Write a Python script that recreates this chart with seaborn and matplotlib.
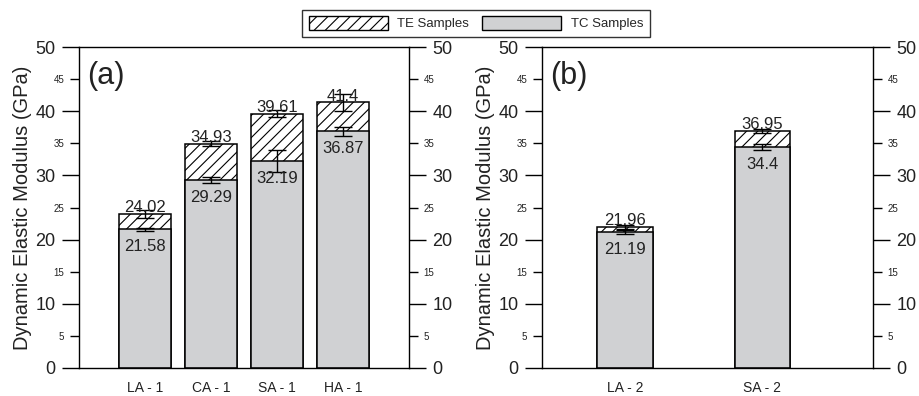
import matplotlib
matplotlib.use("Agg")
import matplotlib.pyplot as plt
from matplotlib.patches import Patch
from matplotlib.ticker import MultipleLocator, FormatStrFormatter
import numpy as np
import pandas as pd
import seaborn as sns

# ---- data ----
cats_a = ["LA - 1", "CA - 1", "SA - 1", "HA - 1"]
te_a = [24.02, 34.93, 39.61, 41.4]
tc_a = [21.58, 29.29, 32.19, 36.87]
te_err_a = [0.65, 0.4, 0.55, 1.35]
tc_err_a = [0.2, 0.5, 1.7, 0.7]

cats_b = ["LA - 2", "SA - 2"]
te_b = [21.96, 36.95]
tc_b = [21.19, 34.4]
te_err_b = [0.3, 0.3]
tc_err_b = [0.3, 0.5]

panel_labels = ["(a)", "(b)"]
ylabel = "Dynamic Elastic Modulus (GPa)"
legend_labels = ["TE Samples", "TC Samples"]

sns.set_theme(style="white")
plt.rcParams["font.family"] = ["Liberation Sans", "DejaVu Sans"]
plt.rcParams["hatch.linewidth"] = 0.8
plt.rcParams["hatch.color"] = "#333333"

TC_COLOR = "#d0d1d3"

fig = plt.figure(figsize=(9.2, 3.96), dpi=100)
ax_a = fig.add_axes([79 / 920, 28 / 396, 330 / 920, 321 / 396])
ax_b = fig.add_axes([542 / 920, 28 / 396, 331 / 920, 321 / 396])


def draw(ax, cats, te, tc, te_err, tc_err, width, xlim, label):
    df = pd.DataFrame({"sample": cats, "te": te, "tc": tc})
    sns.barplot(data=df, x="sample", y="te", color="white", width=width,
                edgecolor="black", linewidth=1.1, hatch="///", errorbar=None,
                ax=ax, saturation=1, zorder=1)
    sns.barplot(data=df, x="sample", y="tc", color=TC_COLOR, width=width,
                edgecolor="black", linewidth=1.1, errorbar=None, ax=ax,
                saturation=1, zorder=2)
    pos = np.arange(len(cats))
    ax.errorbar(pos, te, yerr=te_err, fmt="none", ecolor="black",
                elinewidth=1.0, capsize=6.5, capthick=1.0, zorder=3)
    ax.errorbar(pos, tc, yerr=tc_err, fmt="none", ecolor="black",
                elinewidth=1.0, capsize=6.5, capthick=1.0, zorder=3)
    for p, v in zip(pos, te):
        ax.annotate(f"{v:g}", (p, v), xytext=(0, -1), textcoords="offset points",
                    ha="center", va="bottom", fontsize=12, color="#222222", zorder=4)
    for p, v in zip(pos, tc):
        ax.annotate(f"{v:g}", (p, v), xytext=(0, -7), textcoords="offset points",
                    ha="center", va="top", fontsize=12, color="#222222", zorder=4)
    ax.set_xlim(*xlim)
    ax.set_ylim(0, 50)
    ax.set_xlabel("")
    ax.set_ylabel(ylabel, fontsize=14.5, labelpad=2, color="#222222")
    ax.yaxis.set_major_locator(MultipleLocator(10))
    ax.yaxis.set_minor_locator(MultipleLocator(5))
    ax.yaxis.set_minor_formatter(FormatStrFormatter("%d"))
    ax.yaxis.set_ticks_position("both")
    ax.tick_params(axis="y", which="major", direction="out", length=12, width=1,
                   labelsize=13, pad=5, left=True, right=True,
                   labelleft=True, labelright=True, colors="black",
                   labelcolor="#222222")
    ax.tick_params(axis="y", which="minor", direction="out", length=6.5, width=1,
                   labelsize=7, pad=4, left=True, right=True,
                   labelleft=True, labelright=True, colors="black",
                   labelcolor="#222222")
    ax.tick_params(axis="x", which="both", bottom=False, labelsize=10, pad=3,
                   labelcolor="#222222")
    for s in ax.spines.values():
        s.set_visible(True)
        s.set_color("black")
        s.set_linewidth(1.0)
    ax.text(0.025, 0.91, label, transform=ax.transAxes, fontsize=22,
            ha="left", va="center", color="#222222")


draw(ax_a, cats_a, te_a, tc_a, te_err_a, tc_err_a, 0.8, (-1, 4), panel_labels[0])
draw(ax_b, cats_b, te_b, tc_b, te_err_b, tc_err_b, 0.407, (-0.604, 1.804), panel_labels[1])

handles = [Patch(facecolor="white", edgecolor="black", hatch="///", linewidth=1.0),
           Patch(facecolor=TC_COLOR, edgecolor="black", linewidth=1.0)]
leg = fig.legend(handles, legend_labels, ncol=2, loc="upper center",
                 bbox_to_anchor=(476 / 920, 1 - 3 / 396), fontsize=9.5,
                 frameon=True, fancybox=False, edgecolor="black",
                 handlelength=6.0, handleheight=1.2, borderpad=0.5,
                 columnspacing=1.0, handletextpad=0.7)
leg.get_frame().set_linewidth(1.0)

fig.savefig("out.png", dpi=100)
